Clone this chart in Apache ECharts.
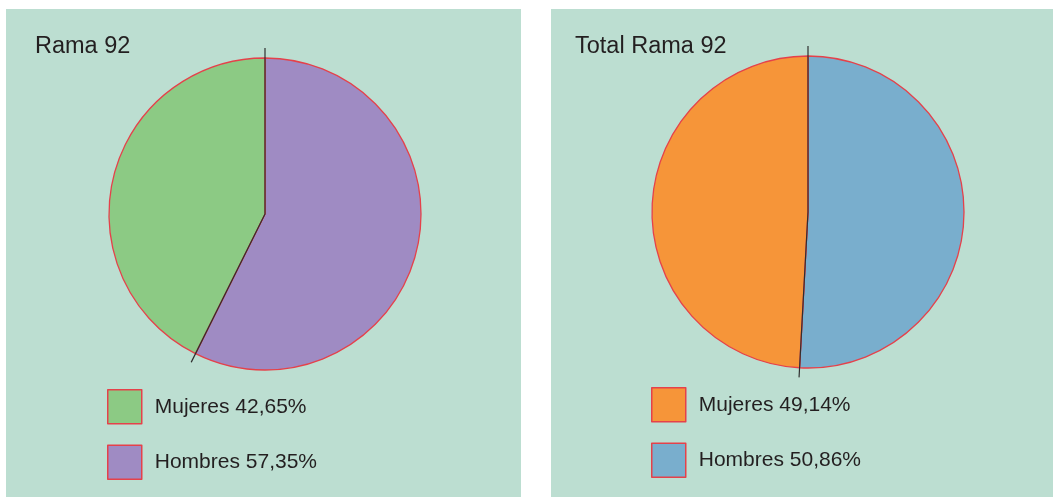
<!DOCTYPE html>
<html>
<head>
<meta charset="utf-8">
<script src="https://cdn.jsdelivr.net/npm/echarts@6/dist/echarts.min.js"></script>
<style>
  body { margin: 0; background: #fff; width: 1053px; height: 497px; position: relative; overflow: hidden; }
  .panel { position: absolute; top: 9px; height: 488px; background: #bcded1; }
  #left { left: 6px; width: 515px; }
  #right { left: 551px; width: 502px; }
</style>
</head>
<body>
<div id="left" class="panel"></div>
<div id="right" class="panel"></div>
<script>
// data
const categories = ['Mujeres', 'Hombres']
const ramaValues = [42.65, 57.35]
const totalValues = [49.14, 50.86]
const ramaColors = ['#8cca84', '#9f8bc3']
const totalColors = ['#f69539', '#79aecd']

const fontFamily = 'Liberation Sans, Arial, sans-serif'
const edgeColor = '#e5414a'

function fmt(v) {
  return v.toFixed(2).replace('.', ',') + '%'
}

function buildOption(title, values, colors, center, titleLeft, legendLeft, legendTop) {
  // pie draws clockwise from the top, Hombres first
  const pieData = [
    { name: categories[1], value: values[1], itemStyle: { color: colors[1] } },
    { name: categories[0], value: values[0], itemStyle: { color: colors[0] } }
  ]
  const total = values[0] + values[1]
  const cut = values[1] / total * 100
  // radial divider lines (radius, angle in percent)
  const divider = [[1, 0], [0, 0], [0, cut], [1, cut]]

  return {
    animation: false,
    title: {
      text: title,
      left: titleLeft,
      top: 26,
      padding: 0,
      textStyle: { fontFamily, fontSize: 23.5, fontWeight: 'normal', color: '#231f20' }
    },
    legend: {
      orient: 'vertical',
      left: legendLeft,
      top: legendTop,
      padding: 0,
      itemWidth: 34,
      itemHeight: 34,
      itemGap: 20,
      icon: 'rect',
      selectedMode: false,
      data: categories,
      itemStyle: { borderColor: edgeColor, borderWidth: 1.5 },
      textStyle: { fontFamily, fontSize: 21, color: '#231f20', padding: [0, 0, 0, 8] },
      formatter: name => name + ' ' + fmt(values[categories.indexOf(name)])
    },
    polar: { center, radius: 166 },
    angleAxis: {
      type: 'value', min: 0, max: 100, startAngle: 90, clockwise: true,
      show: false, splitLine: { show: false }
    },
    radiusAxis: { type: 'value', min: 0, max: 1, show: false, splitLine: { show: false } },
    series: [
      {
        type: 'pie',
        center,
        radius: 156,
        startAngle: 90,
        clockwise: true,
        silent: true,
        label: { show: false },
        labelLine: { show: false },
        itemStyle: { borderColor: edgeColor, borderWidth: 1.3 },
        data: pieData
      },
      {
        type: 'line',
        coordinateSystem: 'polar',
        data: divider,
        symbol: 'none',
        silent: true,
        z: 5,
        lineStyle: { color: '#2f2f2f', width: 1.2 }
      }
    ]
  }
}

const leftChart = echarts.init(document.getElementById('left'))
leftChart.setOption(buildOption('Rama 92', ramaValues, ramaColors, [259, 205], 29, 101, 380))

const rightChart = echarts.init(document.getElementById('right'))
rightChart.setOption(buildOption('Total Rama 92', totalValues, totalColors, [257, 203], 24, 100, 378))
</script>
</body>
</html>
